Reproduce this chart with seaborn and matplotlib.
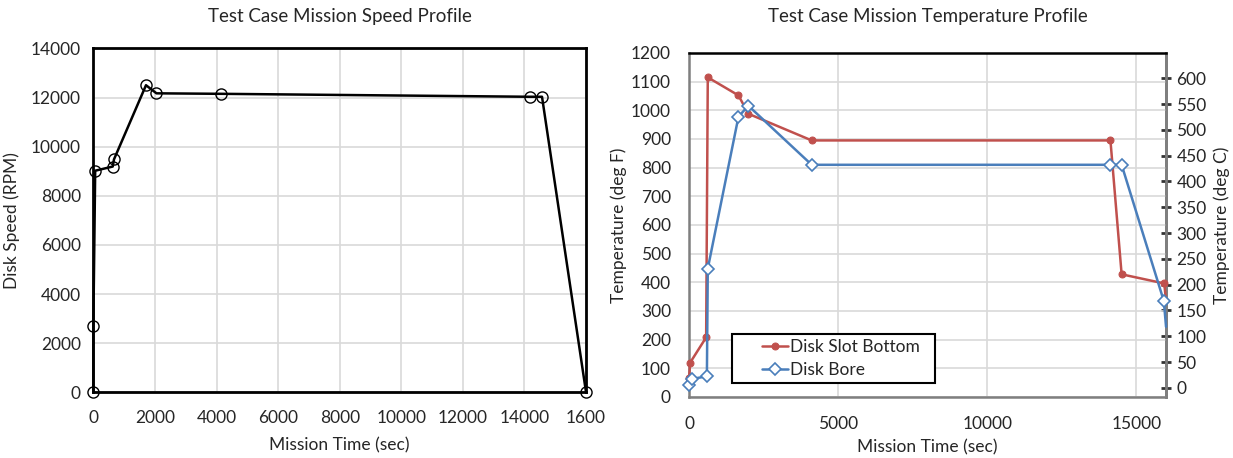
import numpy as np
import pandas as pd
import matplotlib
matplotlib.use("Agg")
import matplotlib.pyplot as plt
from matplotlib.patches import Rectangle
import seaborn as sns

# ---- data ----
speed_time = [0, 0, 60, 630, 670, 1710, 2050, 4150, 14170, 14570, 16000]
speed_rpm = [0, 2700, 9020, 9190, 9480, 12500, 12170, 12150, 12030, 12030, 0]
speed_xticks = [0, 2000, 4000, 6000, 8000, 10000, 12000, 14000, 16000]
speed_xticklabels = ["0", "2000", "4000", "6000", "8000", "10000", "12000", "14000", "1600"]
speed_yticks = [0, 2000, 4000, 6000, 8000, 10000, 12000, 14000]

slot_time = [0, 40, 575, 630, 1660, 1990, 4115, 14135, 14510, 15940, 16000]
slot_temp = [65, 120, 208, 1115, 1052, 988, 895, 895, 428, 396, 335]
bore_time = [0, 95, 600, 630, 1660, 1990, 4115, 14135, 14510, 15925, 16000]
bore_temp = [42, 63, 72, 448, 978, 1016, 810, 810, 810, 335, 245]
temp_xticks = [0, 5000, 10000, 15000]
temp_yticks_f = list(range(0, 1201, 100))
temp_yticks_c = list(range(0, 601, 50))

sns.set_theme(style="white")
plt.rcParams['font.family'] = ['Lato', 'DejaVu Sans']

fig = plt.figure(figsize=(12.33, 4.58), dpi=100)
ax1 = fig.add_axes([0.0757, 0.1434, 0.3996, 0.751])
ax2 = fig.add_axes([0.5588, 0.1332, 0.3869, 0.7511])

grid_c = "#D9D9D9"
fs = 12.5
txt_c = "#262626"

# ---- left chart ----
df1 = pd.DataFrame({"t": speed_time, "rpm": speed_rpm})
sns.lineplot(data=df1, x="t", y="rpm", sort=False, estimator=None, ax=ax1,
             color="black", linewidth=1.8, marker="o", markersize=8,
             markerfacecolor="none", markeredgecolor="black",
             markeredgewidth=1.0, clip_on=False, zorder=5)
ax1.set_xlim(0, 16000)
ax1.set_ylim(0, 14000)
ax1.set_xticks(speed_xticks)
ax1.set_xticklabels(speed_xticklabels)
ax1.set_yticks(speed_yticks)
ax1.grid(True, color=grid_c, linewidth=1.2)
ax1.set_axisbelow(True)
for s in ax1.spines.values():
    s.set_color("black")
    s.set_linewidth(2.0)
ax1.tick_params(axis="x", labelsize=fs, length=0, pad=13, colors=txt_c)
ax1.tick_params(axis="y", labelsize=fs, length=0, pad=9, colors=txt_c)
ax1.set_xlabel("Mission Time (sec)", fontsize=fs, color=txt_c, labelpad=8)
ax1.set_ylabel("Disk Speed (RPM)", fontsize=fs, color=txt_c, labelpad=8)
ax1.set_title("Test Case Mission Speed Profile", fontsize=13.5, color=txt_c, pad=19)

# ---- right chart ----
red = "#C0504D"
blue = "#4A7EBB"
df_slot = pd.DataFrame({"t": slot_time, "T": slot_temp})
df_bore = pd.DataFrame({"t": bore_time, "T": bore_temp})
sns.lineplot(data=df_slot, x="t", y="T", sort=False, estimator=None, ax=ax2,
             color=red, linewidth=1.8, marker="o", markersize=5,
             markerfacecolor=red, markeredgecolor=red,
             markevery=list(range(len(slot_time) - 1)),
             label="Disk Slot Bottom", zorder=4, clip_on=False)
sns.lineplot(data=df_bore, x="t", y="T", sort=False, estimator=None, ax=ax2,
             color=blue, linewidth=1.8, marker="D", markersize=6,
             markerfacecolor="white", markeredgecolor=blue, markeredgewidth=1.2,
             markevery=list(range(len(bore_time) - 1)),
             label="Disk Bore", zorder=5, clip_on=False)
ax2.set_xlim(0, 16000)
ax2.set_ylim(0, 1200)
ax2.set_xticks(temp_xticks)
ax2.set_yticks(temp_yticks_f)
ax2.grid(True, color=grid_c, linewidth=1.2)
ax2.set_axisbelow(True)
ax2.spines["top"].set_color("black")
ax2.spines["top"].set_linewidth(1.8)
for side in ["left", "bottom", "right"]:
    ax2.spines[side].set_color("#7F7F7F")
    ax2.spines[side].set_linewidth(1.8)
ax2.tick_params(axis="x", labelsize=fs, length=0, pad=14, colors=txt_c)
ax2.tick_params(axis="y", labelsize=fs, length=0, pad=13, colors=txt_c)
ax2.set_xlabel("Mission Time (sec)", fontsize=fs, color=txt_c, labelpad=5)
ax2.set_ylabel("Temperature (deg F)", fontsize=fs, color=txt_c, labelpad=3)
ax2.set_title("Test Case Mission Temperature Profile", fontsize=13.5, color=txt_c, pad=22)

sec = ax2.secondary_yaxis("right", functions=(lambda f: (f - 32) / 1.8,
                                               lambda c: c * 1.8 + 32))
sec.set_yticks(temp_yticks_c)
sec.tick_params(axis="y", direction="inout", length=7, width=2, color="#333333",
                labelsize=fs, labelcolor=txt_c, pad=4)
sec.spines["right"].set_color("#555555")
sec.spines["right"].set_linewidth(1.8)
sec.set_ylabel("Temperature (deg C)", fontsize=fs, color=txt_c, labelpad=5)

# legend box (Excel style: wide horizontal padding)
box = Rectangle((0.090, 0.0407), 0.4256, 0.1424, transform=ax2.transAxes,
                facecolor="white", edgecolor="black", linewidth=1.5, zorder=6)
ax2.add_patch(box)
leg = ax2.legend(loc="center left", bbox_to_anchor=(0.152, 0.1119),
                 borderaxespad=0, frameon=False, fontsize=fs, handlelength=1.5,
                 borderpad=0, labelspacing=0.45, handletextpad=0.15)
leg.set_zorder(7)

fig.savefig("out.png", dpi=100)
